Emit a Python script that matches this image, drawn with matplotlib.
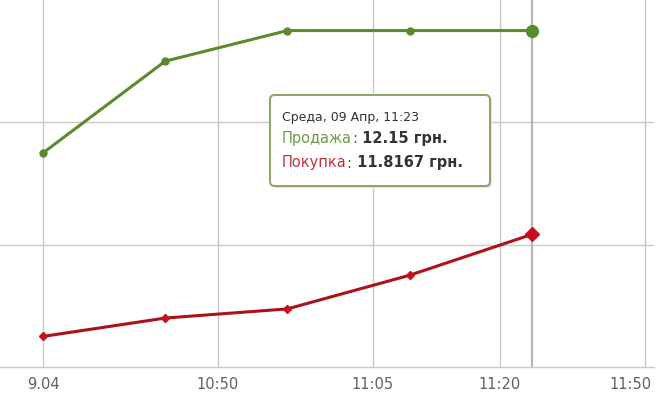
import matplotlib
matplotlib.use("Agg")
import matplotlib.pyplot as plt
from matplotlib.patches import FancyBboxPatch
from matplotlib.transforms import ScaledTranslation

# ordinal positions of the readings (highcharts-style ordinal axis)
points = [0, 1, 2, 3, 4]
sell = [11.95, 12.10, 12.15, 12.15, 12.15]
buy = [11.65, 11.68, 11.695, 11.75, 11.8167]
tick_pos = [0, 1.43, 2.70, 3.74, 4.93]
tick_labels = ["9.04", "10:50", "11:05", "11:20", "11:50"]
hover = 4
tip_title = "Среда, 09 Апр, 11:23"
tip_rows = [("Продажа", "12.15 грн."), ("Покупка", "11.8167 грн.")]

GREEN = "#5b8a2f"
RED = "#ab101b"
W, H = 670, 400

fig = plt.figure(figsize=(6.7, 4), dpi=100)
ax = fig.add_axes([0, 33 / H, 654 / W, 367 / H])
ax.set_xlim(-0.352, 5.0)
ax.set_ylim(11.6, 12.2)

ax.set_xticks(tick_pos)
ax.set_xticklabels(tick_labels)
ax.set_yticks([11.8, 12.0])
ax.set_yticklabels([])
ax.tick_params(axis="x", length=0, pad=7, labelsize=10.5, labelcolor="#606060")
ax.tick_params(axis="y", length=0)
ax.grid(color="#c9c9c9", linewidth=1)
ax.set_axisbelow(True)
for s in ["top", "left", "right"]:
    ax.spines[s].set_visible(False)
ax.spines["bottom"].set_color("#c4ccd6")
ax.spines["bottom"].set_linewidth(1)

# last label is pulled inside the plot, like highcharts does
last = ax.get_xticklabels()[-1]
last.set_ha("right")
last.set_transform(last.get_transform() + ScaledTranslation(6 / 100, 0, fig.dpi_scale_trans))

# crosshair at hovered point
ax.axvline(points[hover], color="#b5b5b5", linewidth=1.6, zorder=1)

ax.plot(points, sell, color=GREEN, linewidth=2.2, marker="o", markersize=5,
        markerfacecolor="#5a8a2a", markeredgecolor="#5a8a2a", zorder=3)
ax.plot(points, buy, color=RED, linewidth=2.2, marker="D", markersize=4.5,
        markerfacecolor="#c8101a", markeredgecolor="#c8101a", zorder=3)
ax.plot(points[hover], sell[hover], marker="o", markersize=8.5, color="#5a8a2a", zorder=4)
ax.plot(points[hover], buy[hover], marker="D", markersize=7, color="#c8101a", zorder=4)

# tooltip box
x0, y0, bw, bh = 270 / W, 1 - 186 / H, 220 / W, 91 / H
shadow = FancyBboxPatch((x0 + 2 / W, y0 - 2 / H), bw, bh,
                        boxstyle="round,pad=0,rounding_size=0.007",
                        mutation_aspect=W / H, transform=fig.transFigure,
                        fc="#d8d8d8", ec="none", alpha=0.7, zorder=5)
box = FancyBboxPatch((x0, y0), bw, bh,
                     boxstyle="round,pad=0,rounding_size=0.007",
                     mutation_aspect=W / H, transform=fig.transFigure,
                     fc="white", ec="#8aa468", lw=1.4, zorder=6)
fig.patches.extend([shadow, box])

fig.text(282 / W, 1 - 117 / H, tip_title, fontsize=9, color="#333333",
         va="center", zorder=7)

fig.canvas.draw()
renderer = fig.canvas.get_renderer()
row_y = [139, 163]
row_colors = ["#6f9a4c", "#c0303a"]
for (name, val), yy, c in zip(tip_rows, row_y, row_colors):
    x = 282
    pieces = [(name, c, "normal"), (":", "#555555", "normal"), (" " + val, "#333333", "bold")]
    for txt, col, wt in pieces:
        t = fig.text(x / W, 1 - yy / H, txt, fontsize=10.5, color=col,
                     fontweight=wt, va="center", zorder=7)
        bb = t.get_window_extent(renderer)
        x = bb.x1

fig.savefig("out.png", dpi=100)
